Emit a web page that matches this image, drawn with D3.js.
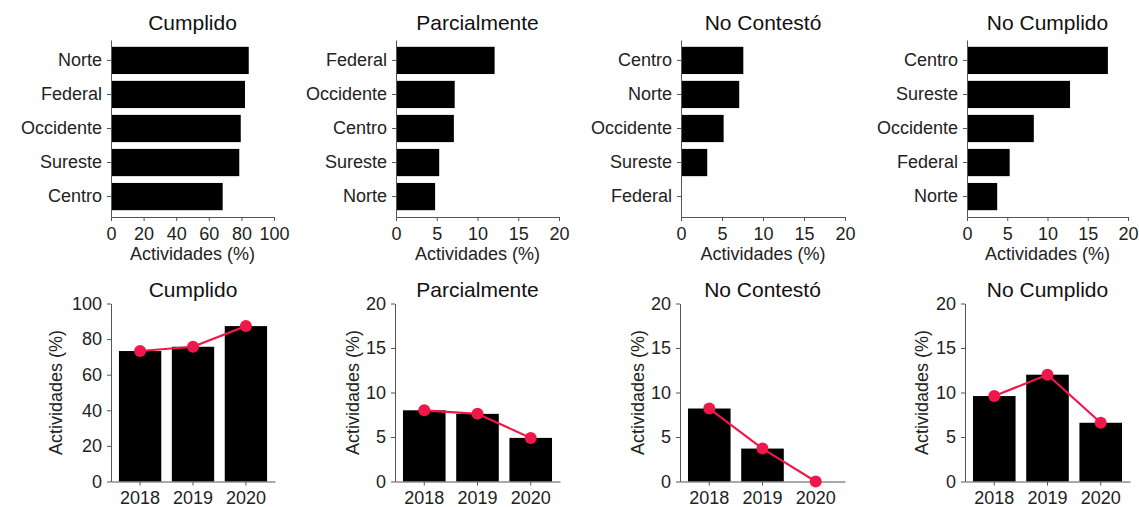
<!DOCTYPE html>
<html>
<head>
<meta charset="utf-8">
<script src="https://cdn.jsdelivr.net/npm/d3@7"></script>
<style>
  html, body { margin: 0; padding: 0; background: #fff; }
  svg { display: block; }
  text { font-family: "Liberation Sans", Arial, sans-serif; }
</style>
</head>
<body>
<svg id="chart" width="1139" height="507"></svg>
<script>
// ---------- DATA ----------
const statusTitles = ["Cumplido", "Parcialmente", "No Contestó", "No Cumplido"];

const regionsCumplido = ["Norte", "Federal", "Occidente", "Sureste", "Centro"];
const valuesCumplido = [84.5, 82.2, 79.6, 78.7, 68.5];

const regionsParcial = ["Federal", "Occidente", "Centro", "Sureste", "Norte"];
const valuesParcial = [12.1, 7.2, 7.1, 5.3, 4.8];

const regionsNoContesto = ["Centro", "Norte", "Occidente", "Sureste", "Federal"];
const valuesNoContesto = [7.6, 7.1, 5.2, 3.2, 0];

const regionsNoCumplido = ["Centro", "Sureste", "Occidente", "Federal", "Norte"];
const valuesNoCumplido = [17.5, 12.8, 8.3, 5.3, 3.75];

const years = ["2018", "2019", "2020"];
const yearCumplido = [73.3, 75.7, 87.3];
const yearParcial = [8.0, 7.6, 4.9];
const yearNoContesto = [8.2, 3.7, 0];
const yearNoCumplido = [9.6, 12.0, 6.6];

const axisMax = [100, 20, 20, 20];
const tickStep = [20, 5, 5, 5];
const axisLabel = "Actividades (%)";

// ---------- LAYOUT ----------
const topPanels = [
  { regions: regionsCumplido, values: valuesCumplido, x0: 111, x1: 274 },
  { regions: regionsParcial, values: valuesParcial, x0: 396, x1: 559 },
  { regions: regionsNoContesto, values: valuesNoContesto, x0: 681, x1: 845 },
  { regions: regionsNoCumplido, values: valuesNoCumplido, x0: 967, x1: 1128 }
];
const bottomPanels = [
  { values: yearCumplido, x0: 111, x1: 275, titleOff: 49.5 },
  { values: yearParcial, x0: 395, x1: 560, titleOff: 36 },
  { values: yearNoContesto, x0: 680, x1: 845, titleOff: 36 },
  { values: yearNoCumplido, x0: 965, x1: 1130, titleOff: 37 }
];

const TOP_Y0 = 40, TOP_Y1 = 217;
const BOT_Y0 = 303.5, BOT_Y1 = 481.5;
const FS = 18, TFS = 21;
const RED = "#f0184a";
const AXIS_COL = "#555";
const TEXT_COL = "#222";

const svg = d3.select("#chart");

function styleAxis(g) {
  g.select(".domain").attr("stroke", AXIS_COL).attr("stroke-width", 1);
  g.selectAll(".tick line").attr("stroke", AXIS_COL).attr("stroke-width", 1);
  g.selectAll(".tick text").attr("fill", TEXT_COL).style("font-size", FS + "px")
    .style("font-family", '"Liberation Sans", Arial, sans-serif');
}

// ---------- TOP ROW: horizontal bars by region ----------
topPanels.forEach((p, i) => {
  const g = svg.append("g");
  const x = d3.scaleLinear().domain([0, axisMax[i]]).range([p.x0, p.x1]);
  const y = d3.scaleBand().domain(p.regions).range([TOP_Y0, TOP_Y1]).padding(0.2);

  g.selectAll("rect.bar").data(p.regions).enter().append("rect")
    .attr("class", "bar")
    .attr("x", x(0))
    .attr("y", d => y(d))
    .attr("width", (d, k) => Math.max(0, x(p.values[k]) - x(0)))
    .attr("height", y.bandwidth())
    .attr("fill", "#000");

  const ticks = d3.range(0, axisMax[i] + 0.001, tickStep[i]);
  g.append("g").attr("transform", `translate(0,${TOP_Y1})`)
    .call(d3.axisBottom(x).tickValues(ticks).tickFormat(d3.format("d"))
      .tickSize(4).tickSizeOuter(0).tickPadding(6))
    .call(styleAxis);

  g.append("g").attr("transform", `translate(${p.x0},0)`)
    .call(d3.axisLeft(y).tickSize(4).tickSizeOuter(0).tickPadding(5))
    .call(styleAxis);

  g.append("text")
    .attr("x", (p.x0 + p.x1) / 2).attr("y", 30)
    .attr("text-anchor", "middle").attr("fill", "#111")
    .style("font-size", TFS + "px")
    .text(statusTitles[i]);

  g.append("text")
    .attr("x", (p.x0 + p.x1) / 2).attr("y", 260)
    .attr("text-anchor", "middle").attr("fill", TEXT_COL)
    .style("font-size", FS + "px")
    .text(axisLabel);
});

// ---------- BOTTOM ROW: yearly bars + line ----------
bottomPanels.forEach((p, i) => {
  const g = svg.append("g");
  const x = d3.scaleBand().domain(years).range([p.x0, p.x1])
    .paddingInner(0.2).paddingOuter(0.15);
  const y = d3.scaleLinear().domain([0, axisMax[i]]).range([BOT_Y1, BOT_Y0]);

  g.selectAll("rect.bar").data(years).enter().append("rect")
    .attr("class", "bar")
    .attr("x", d => x(d))
    .attr("y", (d, k) => y(p.values[k]))
    .attr("width", x.bandwidth())
    .attr("height", (d, k) => y(0) - y(p.values[k]))
    .attr("fill", "#000");

  const ticks = d3.range(0, axisMax[i] + 0.001, tickStep[i]);
  g.append("g").attr("transform", `translate(${p.x0},0)`)
    .call(d3.axisLeft(y).tickValues(ticks).tickFormat(d3.format("d"))
      .tickSize(4).tickSizeOuter(0).tickPadding(5))
    .call(styleAxis);

  g.append("g").attr("transform", `translate(0,${BOT_Y1})`)
    .call(d3.axisBottom(x).tickSize(4).tickSizeOuter(0).tickPadding(6))
    .call(styleAxis);

  const pts = years.map((yr, k) => [x(yr) + x.bandwidth() / 2, y(p.values[k])]);
  g.append("path")
    .attr("d", d3.line()(pts))
    .attr("fill", "none").attr("stroke", RED).attr("stroke-width", 2.2);
  g.selectAll("circle.pt").data(pts).enter().append("circle")
    .attr("class", "pt")
    .attr("cx", d => d[0]).attr("cy", d => d[1]).attr("r", 6)
    .attr("fill", RED);

  g.append("text")
    .attr("x", (p.x0 + p.x1) / 2).attr("y", 297)
    .attr("text-anchor", "middle").attr("fill", "#111")
    .style("font-size", TFS + "px")
    .text(statusTitles[i]);

  const tx = p.x0 - p.titleOff, ty = (BOT_Y0 + BOT_Y1) / 2;
  g.append("text")
    .attr("transform", `translate(${tx},${ty}) rotate(-90)`)
    .attr("text-anchor", "middle").attr("fill", TEXT_COL)
    .style("font-size", FS + "px")
    .text(axisLabel);
});
</script>
</body>
</html>
